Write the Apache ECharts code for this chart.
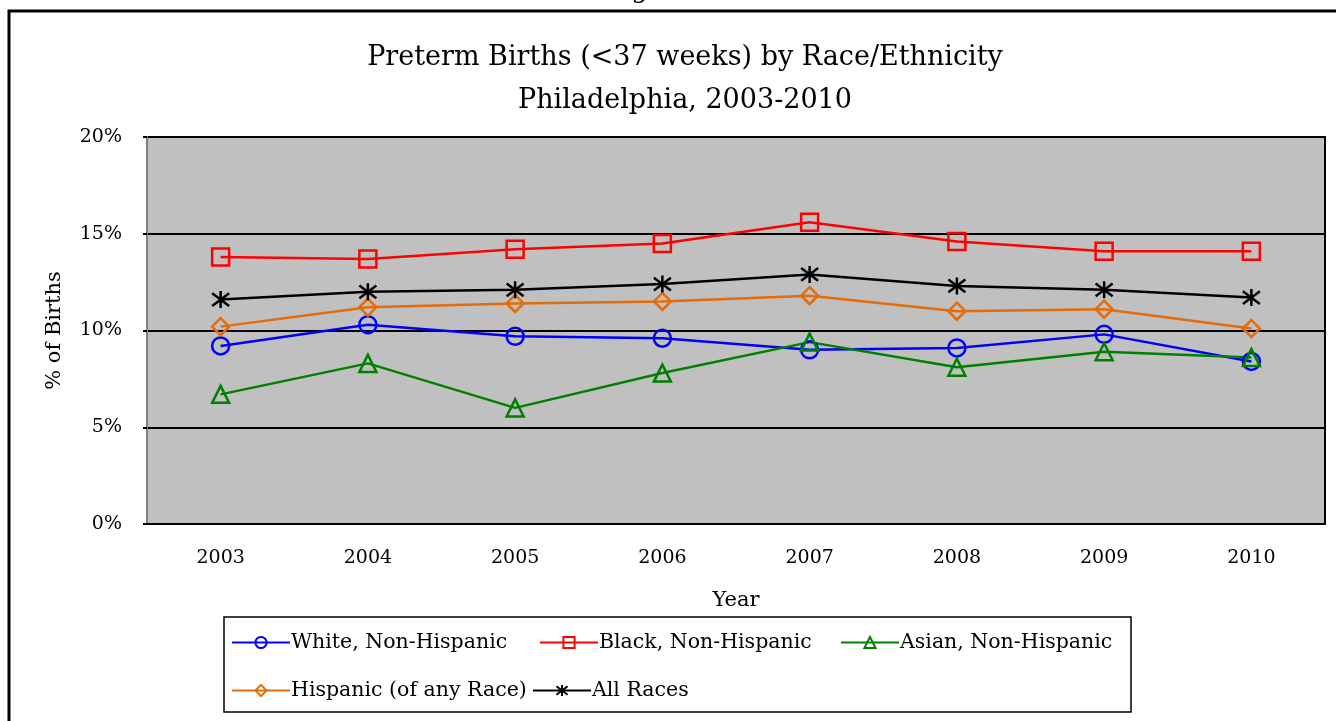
<!DOCTYPE html>
<html>
<head>
<meta charset="utf-8">
<script src="https://cdn.jsdelivr.net/npm/echarts@6/dist/echarts.min.js"></script>
<style>
  html, body { margin: 0; padding: 0; background: #fff; }
  #chart { width: 1336px; height: 721px; }
</style>
</head>
<body>
<div id="chart"></div>
<script>
// preterm births by race/ethnicity, Philadelphia
const years = ['2003', '2004', '2005', '2006', '2007', '2008', '2009', '2010'];
const white = [9.2, 10.3, 9.7, 9.6, 9.0, 9.1, 9.8, 8.4];
const black = [13.8, 13.7, 14.2, 14.5, 15.6, 14.6, 14.1, 14.1];
const asian = [6.7, 8.3, 6.0, 7.8, 9.4, 8.1, 8.9, 8.6];
const hispanic = [10.2, 11.2, 11.4, 11.5, 11.8, 11.0, 11.1, 10.1];
const allRaces = [11.6, 12.0, 12.1, 12.4, 12.9, 12.3, 12.1, 11.7];

const FONT = '"DejaVu Serif", "Liberation Serif", serif';
const STAR = 'path://M0,-10L0,10M-7.5,-7.5L7.5,7.5M-7.5,7.5L7.5,-7.5';

const seriesDefs = [
  { name: 'White, Non-Hispanic', data: white, color: '#0000ff', symbol: 'circle' },
  { name: 'Black, Non-Hispanic', data: black, color: '#ff0000', symbol: 'rect' },
  { name: 'Asian, Non-Hispanic', data: asian, color: '#008000', symbol: 'triangle' },
  { name: 'Hispanic (of any Race)', data: hispanic, color: '#e46c0a', symbol: 'diamond' },
  { name: 'All Races', data: allRaces, color: '#000000', symbol: STAR },
];

// legend slots (excel puts them in rough columns)
const legendPos = [[226, 627], [534, 627], [835, 627], [226, 675], [527, 675]];

const chart = echarts.init(document.getElementById('chart'));
chart.setOption({
  animation: false,
  backgroundColor: '#fff',
  textStyle: { fontFamily: FONT },
  title: {
    text: 'Preterm Births (<37 weeks) by Race/Ethnicity\nPhiladelphia, 2003-2010',
    left: 680, top: 31, textAlign: 'center',
    textStyle: { fontFamily: FONT, fontSize: 27, fontWeight: 'normal', color: '#000', lineHeight: 43 },
  },
  graphic: [
    { type: 'rect', shape: { x: 9, y: 11, width: 1340, height: 730 },
      style: { fill: 'none', stroke: '#000', lineWidth: 3 }, z: 10 },
    { type: 'text', left: 605, top: -22,
      style: { text: 'Figure No', font: '26px ' + FONT, fill: '#000' } },
    { type: 'rect', shape: { x: 224, y: 617, width: 907, height: 95 },
      style: { fill: '#fff', stroke: '#000', lineWidth: 1.5 }, z: 0 },
  ],
  legend: seriesDefs.map((s, i) => ({
    data: [s.name],
    left: legendPos[i][0], top: legendPos[i][1],
    itemWidth: 58, itemHeight: 14, itemGap: 0,
    textStyle: { fontFamily: FONT, fontSize: 20.5, color: '#000', padding: [0, 0, 0, -4] },
    z: 5,
  })),
  grid: {
    left: 147, right: 11, top: 137, bottom: 197,
    show: true, backgroundColor: '#c0c0c0', borderColor: '#000', borderWidth: 2,
  },
  xAxis: {
    type: 'category', data: years,
    name: 'Year', nameLocation: 'middle', nameGap: 66,
    nameTextStyle: { fontFamily: FONT, fontSize: 21, color: '#000' },
    axisLine: { show: true, lineStyle: { color: '#000', width: 2 } },
    axisTick: { show: false },
    axisLabel: { fontFamily: FONT, fontSize: 19, color: '#000', margin: 25 },
  },
  yAxis: {
    type: 'value', min: 0, max: 20, interval: 5,
    name: '% of Births', nameLocation: 'middle', nameGap: 82,
    nameTextStyle: { fontFamily: FONT, fontSize: 21, color: '#000' },
    axisLine: { show: true, lineStyle: { color: '#808080', width: 2 } },
    axisTick: { show: true, length: 4, lineStyle: { color: '#000', width: 2 } },
    splitLine: { show: true, lineStyle: { color: '#000', width: 2 } },
    axisLabel: { fontFamily: FONT, fontSize: 19, color: '#000', margin: 25, formatter: '{value}%' },
  },
  series: seriesDefs.map(s => ({
    name: s.name, type: 'line', data: s.data,
    symbol: s.symbol, symbolSize: 17,
    showAllSymbol: true,
    lineStyle: { color: s.color, width: 2.5 },
    itemStyle: { color: 'rgba(0,0,0,0)', borderColor: s.color, borderWidth: 2.5 },
    emphasis: { disabled: true },
  })),
});
</script>
</body>
</html>
